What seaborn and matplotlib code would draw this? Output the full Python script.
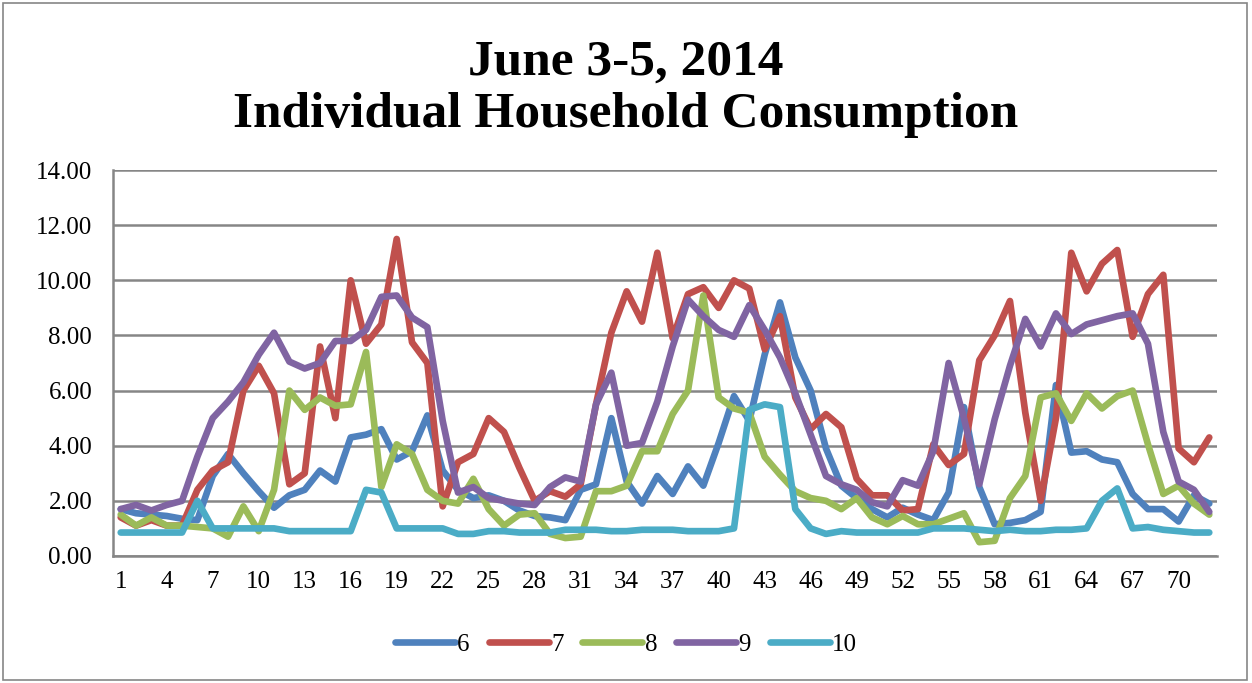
import numpy as np
import pandas as pd
import matplotlib
matplotlib.use("Agg")
import matplotlib.pyplot as plt
import seaborn as sns
from matplotlib.patches import Rectangle

# Readings per interval (1..72) for each household
HOUSEHOLDS = ["6", "7", "8", "9", "10"]
h6 = [1.7, 1.55, 1.5, 1.45, 1.35, 1.3, 2.9, 3.7, 3.0, 2.35, 1.75, 2.2, 2.4, 3.1, 2.7, 4.3, 4.4, 4.6,
      3.5, 3.8, 5.1, 3.1, 2.4, 2.1, 2.2, 2.0, 1.65, 1.45, 1.4, 1.3, 2.4, 2.6, 5.0, 2.7, 1.9, 2.9,
      2.25, 3.25, 2.55, 4.1, 5.8, 4.9, 7.3, 9.2, 7.2, 6.0, 3.9, 2.55, 2.1, 1.7, 1.4, 1.75, 1.5, 1.3,
      2.3, 5.4, 2.5, 1.15, 1.2, 1.3, 1.6, 6.2, 3.75, 3.8, 3.5, 3.4, 2.25, 1.7, 1.7, 1.25, 2.2, 1.9]
h7 = [1.4, 1.1, 1.3, 1.1, 1.1, 2.4, 3.1, 3.4, 6.0, 6.9, 5.9, 2.6, 3.0, 7.6, 5.0, 10.0, 7.7, 8.4,
      11.5, 7.75, 7.0, 1.8, 3.4, 3.7, 5.0, 4.5, 3.2, 2.0, 2.35, 2.15, 2.6, 5.5, 8.1, 9.6, 8.5, 11.0,
      7.9, 9.5, 9.75, 9.0, 10.0, 9.7, 7.5, 8.7, 5.75, 4.6, 5.15, 4.67, 2.8, 2.2, 2.2, 1.65, 1.7, 4.05,
      3.3, 3.7, 7.1, 8.0, 9.25, 5.2, 2.0, 5.0, 11.0, 9.6, 10.6, 11.1, 7.95, 9.5, 10.2, 3.9, 3.4, 4.3]
h8 = [1.5, 1.1, 1.4, 1.1, 1.1, 1.05, 1.0, 0.7, 1.8, 0.9, 2.4, 6.0, 5.3, 5.75, 5.45, 5.5, 7.4, 2.5,
      4.05, 3.7, 2.4, 2.0, 1.9, 2.8, 1.7, 1.1, 1.5, 1.55, 0.8, 0.65, 0.7, 2.35, 2.35, 2.55, 3.8, 3.8,
      5.15, 6.0, 9.45, 5.75, 5.35, 5.2, 3.6, 2.95, 2.35, 2.1, 2.0, 1.7, 2.1, 1.4, 1.15, 1.45, 1.15, 1.15,
      1.35, 1.55, 0.5, 0.55, 2.1, 2.9, 5.75, 5.9, 4.9, 5.9, 5.35, 5.8, 6.0, 4.05, 2.25, 2.55, 1.9, 1.5]
h9 = [1.7, 1.85, 1.65, 1.85, 2.0, 3.6, 5.0, 5.6, 6.3, 7.3, 8.1, 7.05, 6.8, 7.0, 7.8, 7.8, 8.2, 9.4,
      9.45, 8.65, 8.3, 4.9, 2.3, 2.5, 2.1, 2.0, 1.9, 1.85, 2.5, 2.85, 2.7, 5.5, 6.65, 4.0, 4.1, 5.6,
      7.6, 9.3, 8.7, 8.2, 7.95, 9.1, 8.2, 7.2, 5.9, 4.4, 2.9, 2.6, 2.4, 1.95, 1.8, 2.75, 2.55, 3.8,
      7.0, 5.0, 2.6, 4.95, 6.9, 8.6, 7.6, 8.8, 8.05, 8.4, 8.55, 8.7, 8.8, 7.7, 4.5, 2.7, 2.4, 1.6]
h10 = [0.85, 0.85, 0.85, 0.85, 0.85, 2.0, 1.0, 1.0, 1.0, 1.0, 1.0, 0.9, 0.9, 0.9, 0.9, 0.9, 2.4, 2.3,
       1.0, 1.0, 1.0, 1.0, 0.8, 0.8, 0.9, 0.9, 0.85, 0.85, 0.85, 0.95, 0.95, 0.95, 0.9, 0.9, 0.95, 0.95,
       0.95, 0.9, 0.9, 0.9, 1.0, 5.3, 5.5, 5.4, 1.7, 1.0, 0.8, 0.9, 0.85, 0.85, 0.85, 0.85, 0.85, 1.0,
       1.0, 1.0, 0.95, 0.9, 0.95, 0.9, 0.9, 0.95, 0.95, 1.0, 2.0, 2.45, 1.0, 1.05, 0.95, 0.9, 0.85, 0.85]
COLORS = ["#4F81BD", "#C0504D", "#9BBB59", "#8064A2", "#4BACC6"]
X_LABELS = list(range(1, 73, 3))

series = {"6": h6, "7": h7, "8": h8, "9": h9, "10": h10}
intervals = np.arange(1, len(h6) + 1)
df = pd.concat(
    [pd.DataFrame({"Interval": intervals, "kW": vals, "House": name}) for name, vals in series.items()],
    ignore_index=True,
)

sns.set_theme(style="white")
plt.rcParams["font.family"] = ["Liberation Serif", "DejaVu Serif"]
plt.rcParams["text.color"] = "black"
plt.rcParams["xtick.color"] = "black"
plt.rcParams["ytick.color"] = "black"

fig = plt.figure(figsize=(12.52, 6.83), dpi=100)
ax = fig.add_axes([0.0903, 0.186, 0.8817, 0.565])

sns.lineplot(
    data=df, x="Interval", y="kW", hue="House", hue_order=HOUSEHOLDS,
    palette=COLORS, linewidth=4.8, ax=ax, legend=True,
)
for line in ax.lines:
    line.set_solid_capstyle("round")
    line.set_solid_joinstyle("round")

ax.set_xlim(0.5, len(h6) + 0.5)
ax.set_ylim(0, 14)
ax.set_yticks(np.arange(0, 15, 2))
ax.set_yticklabels([f"{v:.2f}" for v in np.arange(0, 15, 2)], fontsize=18)
ax.set_xticks(X_LABELS)
ax.set_xticklabels([str(v) for v in X_LABELS], fontsize=18)
ax.set_xticks(np.arange(0.5, len(h6) + 1, 1), minor=True)
ax.tick_params(axis="x", which="major", length=0, pad=11)
ax.tick_params(axis="x", which="minor", length=7, width=1.5, color="#868686", direction="out")
ax.tick_params(axis="y", which="major", length=7, width=1.5, color="#868686",
               labelcolor="black", direction="out", pad=8)
ax.set_xlabel("")
ax.set_ylabel("")
ax.grid(axis="y", color="#868686", linewidth=1.8)
ax.set_axisbelow(True)
for side in ["top", "right"]:
    ax.spines[side].set_visible(False)
for side in ["left", "bottom"]:
    ax.spines[side].set_color("#868686")
    ax.spines[side].set_linewidth(1.8)

ax.get_legend().remove()
handles, labels = ax.get_legend_handles_labels()
fig.legend(
    handles, labels, loc="center", bbox_to_anchor=(0.5, 0.056), ncol=5, frameon=False,
    fontsize=18, handlelength=2.4, handletextpad=0.1, columnspacing=0.75,
)

fig.text(0.5, 0.909, "June 3-5, 2014", ha="center", va="center",
         fontsize=37, fontweight="bold")
fig.text(0.5, 0.831, "Individual Household Consumption", ha="center", va="center",
         fontsize=37, fontweight="bold")

fig.patches.append(Rectangle((0.002, 0.004), 0.994, 0.992, transform=fig.transFigure,
                             fill=False, edgecolor="#868686", linewidth=1.2))

fig.savefig("out.png", dpi=100)
